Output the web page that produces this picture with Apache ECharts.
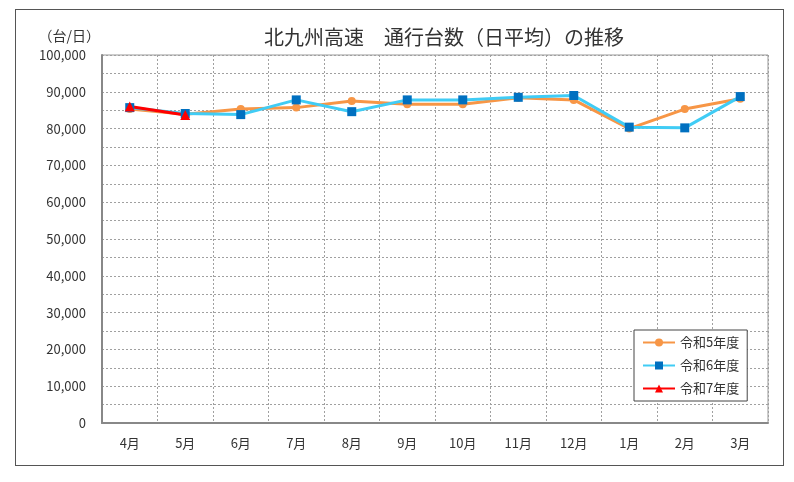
<!DOCTYPE html>
<html lang="ja">
  <head>
    <meta charset="UTF-8" />
    <title>北九州高速 通行台数</title>
    <style>
      html,
      body {
        margin: 0;
        padding: 0;
        background: #fff;
      }
      .frame {
        position: absolute;
        left: 15px;
        top: 9px;
        width: 767px;
        height: 455px;
        border: 1px solid #555;
      }
      #main {
        position: absolute;
        left: 0;
        top: 0;
        width: 794px;
        height: 482px;
      }
    </style>
  </head>
  <body>
    <div class="frame"></div>
    <div id="main"></div>
    <script src="https://cdn.jsdelivr.net/npm/echarts@6/dist/echarts.min.js"></script>
    <script>
      const months = ["4月", "5月", "6月", "7月", "8月", "9月", "10月", "11月", "12月", "1月", "2月", "3月"];
      const r5 = [85300, 83900, 85300, 85700, 87500, 86600, 86600, 88400, 87800, 80000, 85300, 88100];
      const r6 = [85700, 84100, 83800, 87800, 84600, 87800, 87800, 88500, 89000, 80400, 80200, 88700];
      const r7 = [86000, 83700];

      const font = '"Noto Sans CJK JP", sans-serif';
      const grid = { color: "#a0a0a0", type: [2, 2], width: 1 };
      const chart = echarts.init(document.getElementById("main"));

      chart.setOption({
        animation: false,
        textStyle: { fontFamily: font },
        title: {
          text: "北九州高速　通行台数（日平均）の推移",
          left: 259,
          top: 22,
          textStyle: { fontSize: 20, fontWeight: "normal", color: "#333", fontFamily: font }
        },
        grid: {
          left: 102,
          top: 55,
          width: 666,
          height: 368,
          show: true,
          borderColor: "#999",
          borderWidth: 1
        },
        legend: {
          orient: "vertical",
          left: 634,
          top: 330,
          backgroundColor: "#fff",
          borderColor: "#444",
          borderWidth: 1,
          padding: [6, 8, 6, 8],
          itemGap: 10,
          itemWidth: 32,
          itemHeight: 10,
          textStyle: { fontSize: 13, color: "#333", fontFamily: font },
          data: ["令和5年度", "令和6年度", "令和7年度"]
        },
        xAxis: {
          type: "category",
          data: months,
          boundaryGap: true,
          axisLine: { lineStyle: { color: "#888", width: 2 } },
          axisTick: { show: false },
          axisLabel: { fontSize: 13, color: "#333", margin: 14 },
          splitLine: { show: true, lineStyle: grid }
        },
        yAxis: {
          type: "value",
          name: "（台/日）",
          nameLocation: "end",
          nameGap: 12,
          nameTextStyle: { fontSize: 14, color: "#333", align: "right", padding: [0, 2, 0, 0] },
          min: 0,
          max: 100000,
          interval: 10000,
          axisLine: { show: true, lineStyle: { color: "#888", width: 2 } },
          axisTick: { show: false },
          axisLabel: {
            fontSize: 13,
            color: "#333",
            margin: 16,
            formatter: (v) => v.toLocaleString("en-US")
          },
          splitLine: { show: true, lineStyle: grid },
          minorTick: { show: false, splitNumber: 2 },
          minorSplitLine: { show: true, lineStyle: grid }
        },
        series: [
          {
            name: "令和5年度",
            type: "line",
            data: r5,
            symbol: "circle",
            symbolSize: 8,
            lineStyle: { color: "#F79646", width: 3 },
            itemStyle: { color: "#F79646" }
          },
          {
            name: "令和6年度",
            type: "line",
            data: r6,
            symbol: "rect",
            symbolSize: 9,
            lineStyle: { color: "#40CCF5", width: 3 },
            itemStyle: { color: "#0070C0" }
          },
          {
            name: "令和7年度",
            type: "line",
            data: r7,
            symbol: "triangle",
            symbolSize: 10,
            lineStyle: { color: "#FF0000", width: 3 },
            itemStyle: { color: "#FF0000" }
          }
        ]
      });
    </script>
  </body>
</html>
